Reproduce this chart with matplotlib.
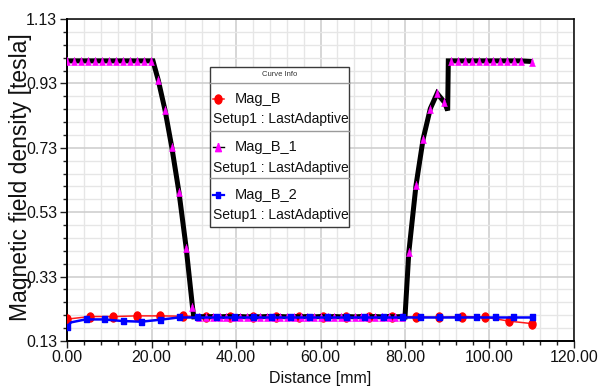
import numpy as np
import matplotlib
matplotlib.use("Agg")
import matplotlib.pyplot as plt
from matplotlib.ticker import MultipleLocator, FixedLocator, FormatStrFormatter
from matplotlib.patches import Rectangle
from matplotlib.lines import Line2D
from matplotlib.path import Path
from matplotlib.transforms import Affine2D

# ---------------- data ----------------
# Mag_B (red circles)
magb_x = [0.0, 5.5, 11.0, 16.5, 22.0, 27.5, 33.0, 38.5, 44.0, 49.5, 55.0,
          60.5, 66.0, 71.5, 77.0, 82.5, 88.0, 93.5, 99.0, 104.5, 110.0]
magb_y = [0.198, 0.206, 0.206, 0.208, 0.208, 0.207, 0.206, 0.206, 0.206, 0.206, 0.206,
          0.206, 0.206, 0.206, 0.206, 0.205, 0.203, 0.206, 0.204, 0.192, 0.184]

# Mag_B_1 (black line, magenta triangles) - sampled points
magb1_x = [0.0, 1.65, 3.3, 4.95, 6.6, 8.25, 9.9, 11.55, 13.2, 14.85, 16.5, 18.15, 19.8,
           21.6, 23.2, 24.8, 26.5, 28.2, 29.7,
           31.3, 32.9, 34.5, 36.1, 37.7, 39.3, 40.9, 42.5, 44.1, 45.7, 47.3, 48.9,
           50.5, 52.1, 53.7, 55.3, 56.9, 58.5, 60.1, 61.7, 63.3, 64.9, 66.5, 68.1,
           69.7, 71.3, 72.9, 74.5, 76.1, 77.7, 79.3,
           80.9, 82.6, 84.3, 86.0, 87.6, 89.3,
           90.9, 92.55, 94.2, 95.85, 97.5, 99.15, 100.8, 102.45, 104.1, 105.75, 107.4, 110.0]
magb1_y = [1.0, 1.0, 1.0, 1.0, 1.0, 1.0, 1.0, 1.0, 1.0, 1.0, 1.0, 1.0, 1.0,
           0.940, 0.847, 0.732, 0.592, 0.420, 0.236,
           0.206, 0.205, 0.206, 0.205, 0.206, 0.205, 0.206, 0.205, 0.206, 0.205, 0.206, 0.205,
           0.206, 0.205, 0.206, 0.205, 0.206, 0.205, 0.206, 0.205, 0.206, 0.205, 0.206, 0.205,
           0.206, 0.205, 0.206, 0.205, 0.206, 0.205, 0.206,
           0.405, 0.613, 0.758, 0.852, 0.899, 0.872,
           1.0, 1.0, 1.0, 1.0, 1.0, 1.0, 1.0, 1.0, 1.0, 1.0, 1.0, 0.998]
# extra vertices of the Mag_B_1 polyline (no markers)
magb1_vx = [20.35, 30.0, 80.0, 90.1, 90.25]
magb1_vy = [1.0, 0.205, 0.205, 0.846, 1.0]

# Mag_B_2 (blue squares)
magb2_x = [0.0, 4.4, 8.8, 13.2, 17.6, 22.0, 26.4, 30.8, 35.2, 39.6, 44.0, 48.4, 52.8,
           57.2, 61.6, 66.0, 70.4, 74.8, 79.2, 83.6, 88.0, 92.4, 96.8, 101.2, 105.6, 110.0]
magb2_y = [0.174, 0.197, 0.197, 0.192, 0.190, 0.196, 0.203, 0.203, 0.203, 0.203, 0.203, 0.203, 0.203,
           0.203, 0.203, 0.203, 0.203, 0.203, 0.203, 0.203, 0.203, 0.203, 0.203, 0.203, 0.203, 0.203]
magb2_vx = [1.0]
magb2_vy = [0.188]

x_major = [0, 20, 40, 60, 80, 100, 120]
y_major = [0.13, 0.33, 0.53, 0.73, 0.93, 1.13]

legend_names = ["Mag_B", "Mag_B_1", "Mag_B_2"]
legend_setup = "Setup1 : LastAdaptive"

# ---------------- styling ----------------
REG = ["Liberation Sans", "DejaVu Sans"]
plt.rcParams["font.family"] = REG

W, H = 606, 392
fig = plt.figure(figsize=(W / 100, H / 100), dpi=100)
fig.patch.set_facecolor("white")

ax_l, ax_r, ax_t, ax_b = 67, 574, 19, 341
ax = fig.add_axes([ax_l / W, 1 - ax_b / H, (ax_r - ax_l) / W, (ax_b - ax_t) / H])

tri = [(0, 1), (-0.7, -1), (0.7, -1), (0, 1)]
ell = Affine2D().scale(0.78, 1.0).transform_path(Path.unit_circle())
sq = [(-0.8, -1), (0.8, -1), (0.8, 1), (-0.8, 1), (-0.8, -1)]

# Mag_B
ax.plot(magb_x, magb_y, color="#ff1a1a", lw=1.1, marker=ell, ms=6.5,
        mec="#ff0000", mfc="#ff0000", zorder=3)

# Mag_B_1 line (with corner vertices) + markers
lx = np.array(magb1_x + magb1_vx)
ly = np.array(magb1_y + magb1_vy)
order = np.argsort(lx, kind="stable")
ax.plot(lx[order], ly[order], color="black", lw=3.6, solid_joinstyle="miter",
        solid_capstyle="butt", zorder=4)
ax.plot(magb1_x, magb1_y, ls="none", marker=tri, ms=6, mfc="#ff00ff",
        mec="#ff00ff", mew=0.3, zorder=5)

# Mag_B_2
bx = np.array(magb2_x + magb2_vx)
by = np.array(magb2_y + magb2_vy)
o2 = np.argsort(bx, kind="stable")
ax.plot(bx[o2], by[o2], color="#0000ff", lw=1.8, zorder=6)
ax.plot(magb2_x, magb2_y, ls="none", marker=sq, ms=4.5, mfc="#0000ff",
        mec="#0000ff", zorder=6)

ax.set_xlim(0, 120)
ax.set_ylim(0.13, 1.13)
ax.xaxis.set_major_locator(FixedLocator(x_major))
ax.xaxis.set_minor_locator(MultipleLocator(4))
ax.yaxis.set_major_locator(FixedLocator(y_major))
ax.yaxis.set_minor_locator(FixedLocator(np.arange(0.13, 1.1301, 0.04)))
ax.xaxis.set_major_formatter(FormatStrFormatter("%.2f"))
ax.yaxis.set_major_formatter(FormatStrFormatter("%.2f"))

ax.grid(which="minor", color="#e6e6e6", lw=1.0, zorder=0)
ax.grid(which="major", color="#cccccc", lw=1.1, zorder=0)
ax.set_axisbelow(True)

ax.tick_params(which="major", direction="out", length=5, width=1.0, color="#222222",
               labelsize=11.5, pad=2)
ax.tick_params(which="minor", direction="out", length=3, width=1.0, color="#222222")
ax.tick_params(axis="x", which="both", top=False)
ax.tick_params(axis="x", which="major", pad=1.5)
ax.tick_params(axis="y", which="both", right=False)
for lab in ax.get_xticklabels() + ax.get_yticklabels():
    lab.set_color("#111111")

for s in ["left", "bottom"]:
    ax.spines[s].set_linewidth(1.4)
for s in ["top", "right"]:
    ax.spines[s].set_linewidth(1.1)

# axis labels
fig.text(320 / W, 1 - 378 / H, "Distance [mm]", ha="center", va="center",
         fontsize=11.5, color="#111111")
fig.text(21 / W, 1 - 177 / H, "Magnetic field density [tesla]", ha="center",
         va="center", rotation=90, fontsize=16.5, color="#111111")

# ---------------- legend box (Curve Info) ----------------
def fx(px):
    return px / W


def fy(py):
    return 1 - py / H


bl, br, bt, bb = 210, 349, 66.7, 226.7
fig.add_artist(Rectangle((fx(bl), fy(bb)), (br - bl) / W, (bb - bt) / H,
                         transform=fig.transFigure, facecolor="white",
                         edgecolor="#3a3a3a", lw=1.0, zorder=10))
for dy in [82.7, 130.7, 178.3]:
    fig.add_artist(Line2D([fx(bl), fx(br)], [fy(dy), fy(dy)], transform=fig.transFigure,
                          color="#9a9a9a", lw=1.0, zorder=11))
fig.text(fx((bl + br) / 2), fy(75), "Curve Info", ha="center", va="center",
         fontsize=5.5, color="#333333", zorder=12)

rows = [99.3, 147.3, 195.0]
subrows = [119.3, 168.3, 215.0]
icon = [
    dict(lc="#ff1a1a", lw=1.1, marker=ell, ms=6.5, mc="#ff0000"),
    dict(lc="black", lw=1.0, marker=tri, ms=6, mc="#ff00ff"),
    dict(lc="#0000ff", lw=1.6, marker=sq, ms=4, mc="#0000ff"),
]
for name, r, sr, ic in zip(legend_names, rows, subrows, icon):
    fig.add_artist(Line2D([fx(212.7), fx(224)], [fy(r), fy(r)], transform=fig.transFigure,
                          color=ic["lc"], lw=ic["lw"], zorder=12))
    fig.add_artist(Line2D([fx(218.3)], [fy(r)], transform=fig.transFigure, ls="none",
                          marker=ic["marker"], ms=ic["ms"], mfc=ic["mc"], mec=ic["mc"],
                          zorder=13))
    fig.text(fx(235), fy(r), name, ha="left", va="center", fontsize=10.5,
             color="#111111", zorder=12)
    fig.text(fx(213), fy(sr), legend_setup, ha="left", va="center", fontsize=10,
             color="#111111", zorder=12)

fig.savefig("out.png", dpi=100, facecolor="white")
